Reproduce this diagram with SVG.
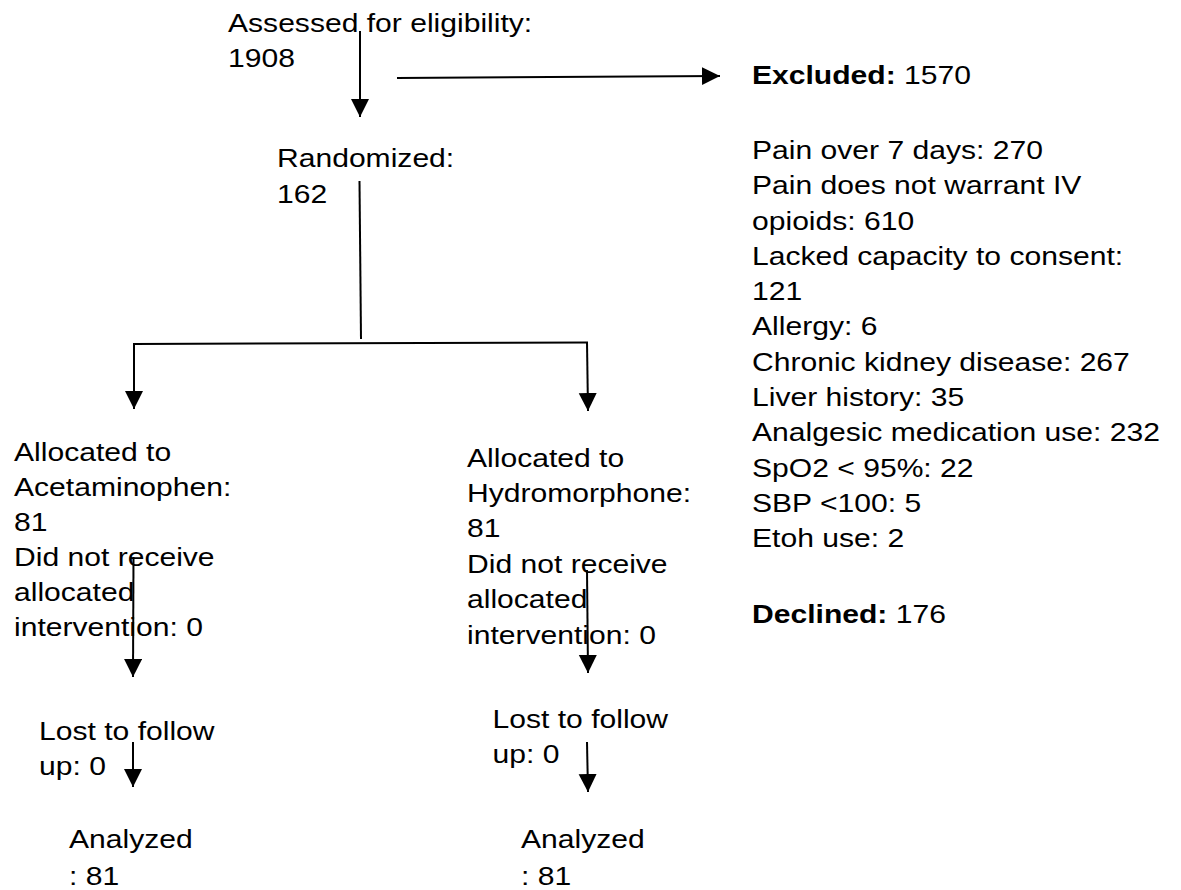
<svg xmlns="http://www.w3.org/2000/svg" width="1181" height="890" viewBox="0 0 1181 890">
<style>
.t{font-family:"Liberation Sans",Arial,sans-serif;font-size:25.5px;fill:#000}
.b{font-weight:bold}
.c{stroke:#000;stroke-width:2;fill:none}
</style>
<defs>
<marker id="ah" markerUnits="userSpaceOnUse" markerWidth="20" markerHeight="20" refX="18" refY="9" orient="auto">
<path d="M0,0 L18,9 L0,18 Z" fill="#000"/>
</marker>
</defs>
<rect width="1181" height="890" fill="#fff"/>
<g id="connectors">
<line class="c" x1="360" y1="31" x2="360" y2="117" marker-end="url(#ah)"/>
<line class="c" x1="397" y1="78" x2="720" y2="76" marker-end="url(#ah)"/>
<line class="c" x1="359.5" y1="181" x2="361" y2="339"/>
<line class="c" x1="133" y1="344" x2="588" y2="342.5"/>
<line class="c" x1="134" y1="343" x2="134" y2="409" marker-end="url(#ah)"/>
<line class="c" x1="587" y1="342" x2="588" y2="411" marker-end="url(#ah)"/>
<line class="c" x1="133.5" y1="557" x2="133" y2="677" marker-end="url(#ah)"/>
<line class="c" x1="587" y1="570" x2="588" y2="673" marker-end="url(#ah)"/>
<line class="c" x1="133" y1="742" x2="133" y2="787" marker-end="url(#ah)"/>
<line class="c" x1="587" y1="742" x2="588" y2="792" marker-end="url(#ah)"/>
</g>
<g id="assessed">
<text class="t" transform="translate(228,31.7) scale(1.18,1)"><tspan x="0" y="0">Assessed for eligibility:</tspan><tspan x="0" y="35">1908</tspan></text>
</g>
<g id="randomized">
<text class="t" transform="translate(277,166.7) scale(1.18,1)"><tspan x="0" y="0">Randomized:</tspan><tspan x="0" y="36">162</tspan></text>
</g>
<g id="excluded">
<text class="t" transform="translate(752,0) scale(1.18,1)">
<tspan x="0" y="84"><tspan class="b">Excluded:</tspan> 1570</tspan>
<tspan x="0" y="159">Pain over 7 days: 270</tspan>
<tspan x="0" y="194.3">Pain does not warrant IV</tspan>
<tspan x="0" y="229.6">opioids: 610</tspan>
<tspan x="0" y="264.9">Lacked capacity to consent:</tspan>
<tspan x="0" y="300.2">121</tspan>
<tspan x="0" y="335.5">Allergy: 6</tspan>
<tspan x="0" y="370.8">Chronic kidney disease: 267</tspan>
<tspan x="0" y="406.1">Liver history: 35</tspan>
<tspan x="0" y="441.4">Analgesic medication use: 232</tspan>
<tspan x="0" y="476.7">SpO2 &lt; 95%: 22</tspan>
<tspan x="0" y="512">SBP &lt;100: 5</tspan>
<tspan x="0" y="547.3">Etoh use: 2</tspan>
<tspan x="0" y="623"><tspan class="b">Declined:</tspan> 176</tspan>
</text>
</g>
<g id="alloc-acet">
<text class="t" transform="translate(14,461) scale(1.18,1)">
<tspan x="0" y="0">Allocated to</tspan>
<tspan x="0" y="35">Acetaminophen:</tspan>
<tspan x="0" y="70">81</tspan>
<tspan x="0" y="105">Did not receive</tspan>
<tspan x="0" y="140">allocated</tspan>
<tspan x="0" y="175">intervention: 0</tspan>
</text>
</g>
<g id="alloc-hydro">
<text class="t" transform="translate(467,466.5) scale(1.18,1)">
<tspan x="0" y="0">Allocated to</tspan>
<tspan x="0" y="35.5">Hydromorphone:</tspan>
<tspan x="0" y="71">81</tspan>
<tspan x="0" y="106.5">Did not receive</tspan>
<tspan x="0" y="142">allocated</tspan>
<tspan x="0" y="177.5">intervention: 0</tspan>
</text>
</g>
<g id="lost-acet">
<text class="t" transform="translate(39,740) scale(1.18,1)"><tspan x="0" y="0">Lost to follow</tspan><tspan x="0" y="35">up: 0</tspan></text>
</g>
<g id="lost-hydro">
<text class="t" transform="translate(492.5,728.3) scale(1.18,1)"><tspan x="0" y="0">Lost to follow</tspan><tspan x="0" y="35">up: 0</tspan></text>
</g>
<g id="analyzed-acet">
<text class="t" transform="translate(69,848) scale(1.18,1)"><tspan x="0" y="0">Analyzed</tspan><tspan x="0" y="37">: 81</tspan></text>
</g>
<g id="analyzed-hydro">
<text class="t" transform="translate(521,848.3) scale(1.18,1)"><tspan x="0" y="0">Analyzed</tspan><tspan x="0" y="37">: 81</tspan></text>
</g>
</svg>
